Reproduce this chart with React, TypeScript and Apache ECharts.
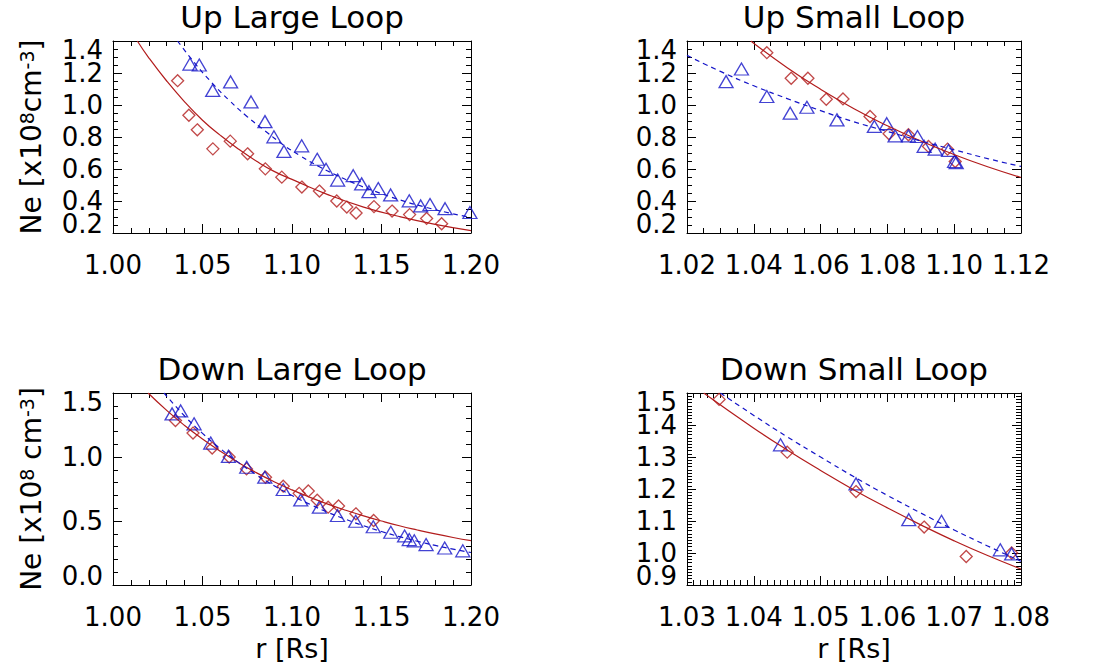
import React, { useEffect, useRef } from "react";
import * as echarts from "echarts";

// ---------------- Data ----------------
// Up Large Loop
const UL_TRI_R = [1.043, 1.0482, 1.0557, 1.0657, 1.0771, 1.0849, 1.0899, 1.0955, 1.1054, 1.1141, 1.119, 1.1255, 1.1342, 1.1389, 1.143, 1.1482, 1.1551, 1.1655, 1.1719, 1.1771, 1.1855, 1.1994];
const UL_TRI_NE = [1.256, 1.25, 1.091, 1.144, 1.019, 0.896, 0.801, 0.71, 0.745, 0.661, 0.598, 0.531, 0.558, 0.507, 0.458, 0.478, 0.438, 0.401, 0.369, 0.378, 0.352, 0.328];
const UL_DIA_R = [1.0361, 1.0424, 1.0471, 1.0558, 1.0655, 1.0752, 1.0851, 1.0943, 1.1055, 1.1153, 1.125, 1.1306, 1.1358, 1.1458, 1.1559, 1.1657, 1.1752, 1.1836];
const UL_DIA_NE = [1.152, 0.936, 0.845, 0.726, 0.774, 0.695, 0.601, 0.549, 0.487, 0.462, 0.4, 0.362, 0.325, 0.365, 0.337, 0.315, 0.291, 0.258];
const UL_FITR_R = [1.0136, 1.02, 1.03, 1.04, 1.05, 1.06, 1.07, 1.08, 1.09, 1.1, 1.12, 1.14, 1.16, 1.18, 1.2];
const UL_FITR_NE = [1.4, 1.295, 1.15, 1.02, 0.905, 0.81, 0.725, 0.65, 0.585, 0.535, 0.44, 0.362, 0.303, 0.254, 0.215];
const UL_FITB_R = [1.0361, 1.045, 1.055, 1.065, 1.075, 1.085, 1.095, 1.105, 1.115, 1.125, 1.135, 1.145, 1.16, 1.175, 1.19, 1.2];
const UL_FITB_NE = [1.4, 1.271, 1.142, 1.028, 0.927, 0.838, 0.752, 0.68, 0.616, 0.56, 0.51, 0.466, 0.408, 0.36, 0.32, 0.298];

// Up Small Loop
const US_TRI_R = [1.0317, 1.0363, 1.0439, 1.0509, 1.0559, 1.0649, 1.0761, 1.0798, 1.0823, 1.0863, 1.089, 1.091, 1.0943, 1.0983, 1.1001, 1.1006];
const US_TRI_NE = [1.146, 1.225, 1.053, 0.949, 0.986, 0.907, 0.866, 0.883, 0.807, 0.807, 0.803, 0.741, 0.724, 0.716, 0.647, 0.64];
const US_DIA_R = [1.0439, 1.0512, 1.0562, 1.0617, 1.0667, 1.0748, 1.0805, 1.0863, 1.0923, 1.098, 1.1003];
const US_DIA_NE = [1.327, 1.167, 1.167, 1.036, 1.038, 0.928, 0.82, 0.814, 0.741, 0.724, 0.647];
const US_FITR_R = [1.0391, 1.05, 1.06, 1.07, 1.08, 1.09, 1.1, 1.11, 1.12];
const US_FITR_NE = [1.4, 1.233, 1.098, 0.977, 0.87, 0.775, 0.69, 0.614, 0.547];
const US_FITB_R = [1.02, 1.03, 1.04, 1.05, 1.06, 1.07, 1.08, 1.09, 1.1, 1.11, 1.12];
const US_FITB_NE = [1.31, 1.21, 1.12, 1.04, 0.965, 0.895, 0.835, 0.775, 0.72, 0.665, 0.616];

// Down Large Loop
const DL_TRI_R = [1.033, 1.0378, 1.0453, 1.0546, 1.0645, 1.0747, 1.0848, 1.0951, 1.1049, 1.1153, 1.1254, 1.1356, 1.1454, 1.1552, 1.1629, 1.1655, 1.1683, 1.1749, 1.1853, 1.1954];
const DL_TRI_NE = [1.337, 1.36, 1.259, 1.109, 1.005, 0.92, 0.842, 0.746, 0.665, 0.608, 0.543, 0.498, 0.455, 0.412, 0.383, 0.355, 0.345, 0.316, 0.289, 0.267];
const DL_DIA_R = [1.0349, 1.0447, 1.0554, 1.0649, 1.0746, 1.0852, 1.0951, 1.104, 1.1091, 1.1141, 1.1202, 1.126, 1.1357, 1.1456];
const DL_DIA_NE = [1.285, 1.187, 1.07, 1.0, 0.907, 0.842, 0.772, 0.716, 0.735, 0.662, 0.608, 0.617, 0.556, 0.504];
const DL_FITR_R = [1.0196, 1.03, 1.04, 1.05, 1.06, 1.07, 1.08, 1.09, 1.1, 1.11, 1.12, 1.13, 1.14, 1.15, 1.16, 1.17, 1.18, 1.19, 1.2];
const DL_FITR_NE = [1.5, 1.364, 1.246, 1.14, 1.044, 0.957, 0.878, 0.807, 0.743, 0.685, 0.632, 0.584, 0.54, 0.5, 0.463, 0.43, 0.399, 0.371, 0.346];
const DL_FITB_R = [1.0285, 1.04, 1.05, 1.06, 1.07, 1.08, 1.09, 1.1, 1.11, 1.12, 1.13, 1.14, 1.15, 1.16, 1.17, 1.18, 1.19, 1.2];
const DL_FITB_NE = [1.5, 1.32, 1.185, 1.065, 0.958, 0.862, 0.776, 0.699, 0.63, 0.568, 0.513, 0.463, 0.418, 0.378, 0.342, 0.309, 0.28, 0.254];

// Down Small Loop
const DS_TRI_R = [1.044, 1.0553, 1.0632, 1.0681, 1.0769, 1.0786];
const DS_TRI_NE = [1.338, 1.216, 1.104, 1.099, 1.01, 0.997];
const DS_DIA_R = [1.0348, 1.045, 1.0553, 1.0655, 1.0718, 1.0786];
const DS_DIA_NE = [1.48, 1.315, 1.192, 1.081, 0.989, 1.0];
const DS_FITR_R = [1.0325, 1.04, 1.045, 1.05, 1.055, 1.06, 1.065, 1.07, 1.075, 1.08];
const DS_FITR_NE = [1.5, 1.39, 1.322, 1.258, 1.197, 1.141, 1.088, 1.038, 0.992, 0.95];
const DS_FITB_R = [1.035, 1.04, 1.045, 1.05, 1.055, 1.06, 1.065, 1.07, 1.075, 1.08];
const DS_FITB_NE = [1.5, 1.43, 1.363, 1.3, 1.238, 1.18, 1.125, 1.072, 1.022, 0.974];

const TITLES = ["Up Large Loop", "Up Small Loop", "Down Large Loop", "Down Small Loop"];
const X_NAME = "r [Rs]";

// ---------------- Styling / layout ----------------
const RED = "#b21c1c";
const BLUE = "#1414c8";
const FONT = "DejaVu Sans";

const zip = (a: number[], b: number[]) => a.map((v, i) => [v, b[i]]);

const PANELS = [
  {
    grid: { left: 113, top: 41, width: 358, height: 192 },
    x: { min: 1.0, max: 1.2, interval: 0.05, minor: 5, dec: 2 },
    y: { min: 0.2, max: 1.4, interval: 0.2, minor: 4, dec: 1 },
    yName: "{a|Ne [x10}{s|8}{a|cm}{s|-3}{a|]}",
    xName: "",
    tri: zip(UL_TRI_R, UL_TRI_NE), dia: zip(UL_DIA_R, UL_DIA_NE),
    fitR: zip(UL_FITR_R, UL_FITR_NE), fitB: zip(UL_FITB_R, UL_FITB_NE),
  },
  {
    grid: { left: 687, top: 41, width: 334, height: 192 },
    x: { min: 1.02, max: 1.12, interval: 0.02, minor: 4, dec: 2 },
    y: { min: 0.2, max: 1.4, interval: 0.2, minor: 4, dec: 1 },
    yName: "",
    xName: "",
    tri: zip(US_TRI_R, US_TRI_NE), dia: zip(US_DIA_R, US_DIA_NE),
    fitR: zip(US_FITR_R, US_FITR_NE), fitB: zip(US_FITB_R, US_FITB_NE),
  },
  {
    grid: { left: 113, top: 393, width: 358, height: 192 },
    x: { min: 1.0, max: 1.2, interval: 0.05, minor: 5, dec: 2 },
    y: { min: 0.0, max: 1.5, interval: 0.5, minor: 5, dec: 1 },
    yName: "{a|Ne [x10}{s|8}{a| cm}{s|-3}{a|]}",
    xName: X_NAME,
    tri: zip(DL_TRI_R, DL_TRI_NE), dia: zip(DL_DIA_R, DL_DIA_NE),
    fitR: zip(DL_FITR_R, DL_FITR_NE), fitB: zip(DL_FITB_R, DL_FITB_NE),
  },
  {
    grid: { left: 687, top: 393, width: 334, height: 192 },
    x: { min: 1.03, max: 1.08, interval: 0.01, minor: 10, dec: 2 },
    y: { min: 0.9, max: 1.5, interval: 0.1, minor: 10, dec: 1 },
    yName: "",
    xName: X_NAME,
    tri: zip(DS_TRI_R, DS_TRI_NE), dia: zip(DS_DIA_R, DS_DIA_NE),
    fitR: zip(DS_FITR_R, DS_FITR_NE), fitB: zip(DS_FITB_R, DS_FITB_NE),
  },
];

function buildOption() {
  const grids: any[] = [];
  const xAxes: any[] = [];
  const yAxes: any[] = [];
  const series: any[] = [];
  const titles: any[] = [];

  PANELS.forEach((p, i) => {
    grids.push({ ...p.grid, containLabel: false });
    const common = (ax: any) => ({
      type: "value",
      gridIndex: i,
      min: ax.min,
      max: ax.max,
      interval: ax.interval,
      axisLine: { show: true, onZero: false, lineStyle: { color: "#000", width: 1 } },
      axisTick: { show: true, inside: true, length: 9, lineStyle: { color: "#000", width: 1 } },
      minorTick: { show: true, splitNumber: ax.minor, length: 5, lineStyle: { color: "#000", width: 1 } },
      splitLine: { show: false },
      minorSplitLine: { show: false },
    });
    const yLabelBase = {
      show: true, margin: 10, fontSize: 26, lineHeight: 18, color: "#000", fontFamily: FONT,
      formatter: (v: number) => v.toFixed(p.y.dec),
    };
    xAxes.push({
      ...common(p.x),
      position: "bottom",
      axisLabel: {
        show: true, margin: 19, fontSize: 26, color: "#000", fontFamily: FONT,
        showMinLabel: true, showMaxLabel: true,
        formatter: (v: number) => v.toFixed(p.x.dec),
      },
      name: p.xName,
      nameLocation: "middle",
      nameGap: 50,
      nameTextStyle: { fontSize: 27, color: "#000", fontFamily: FONT },
    });
    xAxes.push({ ...common(p.x), position: "top", axisLabel: { show: false } });
    // A: main left axis (box, ticks, interior labels, name)
    yAxes.push({
      ...common(p.y),
      position: "left",
      axisLabel: { ...yLabelBase, showMinLabel: false, showMaxLabel: false },
      name: p.yName,
      nameLocation: "middle",
      nameRotate: 90,
      nameGap: 68,
      nameTextStyle: {
        color: "#000",
        fontFamily: FONT,
        rich: {
          a: { fontSize: 28, color: "#000", fontFamily: FONT },
          s: { fontSize: 19, color: "#000", fontFamily: FONT, verticalAlign: "top" },
        },
      },
    });
    // B: end labels only (shifted inwards like the original)
    yAxes.push({
      type: "value",
      gridIndex: i,
      position: "left",
      offset: 0,
      min: p.y.min,
      max: p.y.max,
      interval: p.y.max - p.y.min,
      axisLine: { show: false },
      axisTick: { show: false },
      minorTick: { show: false },
      splitLine: { show: false },
      axisLabel: {
        ...yLabelBase,
        showMinLabel: true, showMaxLabel: true,
        verticalAlignMinLabel: "bottom",
        verticalAlignMaxLabel: "top",
      },
    });
    // C: right box side
    yAxes.push({ ...common(p.y), position: "right", axisLabel: { show: false } });

    const xi = 2 * i;
    const yi = 3 * i;
    series.push({
      type: "line", xAxisIndex: xi, yAxisIndex: yi, data: p.fitR, smooth: true,
      showSymbol: false, silent: true, clip: true,
      lineStyle: { color: RED, width: 1.2 },
    });
    series.push({
      type: "line", xAxisIndex: xi, yAxisIndex: yi, data: p.fitB, smooth: true,
      showSymbol: false, silent: true, clip: true,
      lineStyle: { color: BLUE, width: 1.2, type: [5, 4] },
    });
    series.push({
      type: "scatter", xAxisIndex: xi, yAxisIndex: yi, data: p.dia,
      symbol: "diamond", symbolSize: [12, 12], silent: true,
      itemStyle: { color: "rgba(0,0,0,0)", borderColor: RED, borderWidth: 1.3 },
    });
    series.push({
      type: "scatter", xAxisIndex: xi, yAxisIndex: yi, data: p.tri,
      symbol: "triangle", symbolSize: [14, 12], silent: true,
      itemStyle: { color: "rgba(0,0,0,0)", borderColor: BLUE, borderWidth: 1.3 },
    });

    titles.push({
      text: TITLES[i],
      left: p.grid.left + p.grid.width / 2,
      top: p.grid.top - 40,
      textAlign: "center",
      padding: 0,
      textStyle: { fontSize: 31, fontWeight: "normal", color: "#000", fontFamily: FONT },
    });
  });

  return {
    animation: false,
    backgroundColor: "#fff",
    title: titles,
    grid: grids,
    xAxis: xAxes,
    yAxis: yAxes,
    series,
  };
}

export default function App() {
  const ref = useRef<HTMLDivElement>(null);
  useEffect(() => {
    if (!ref.current) return;
    const chart = echarts.init(ref.current, undefined, { renderer: "svg" });
    chart.setOption(buildOption() as any);
    return () => chart.dispose();
  }, []);
  return (
    <div
      ref={ref}
      style={{ position: "absolute", left: 0, top: 0, width: 1099, height: 672, background: "#fff" }}
    />
  );
}
